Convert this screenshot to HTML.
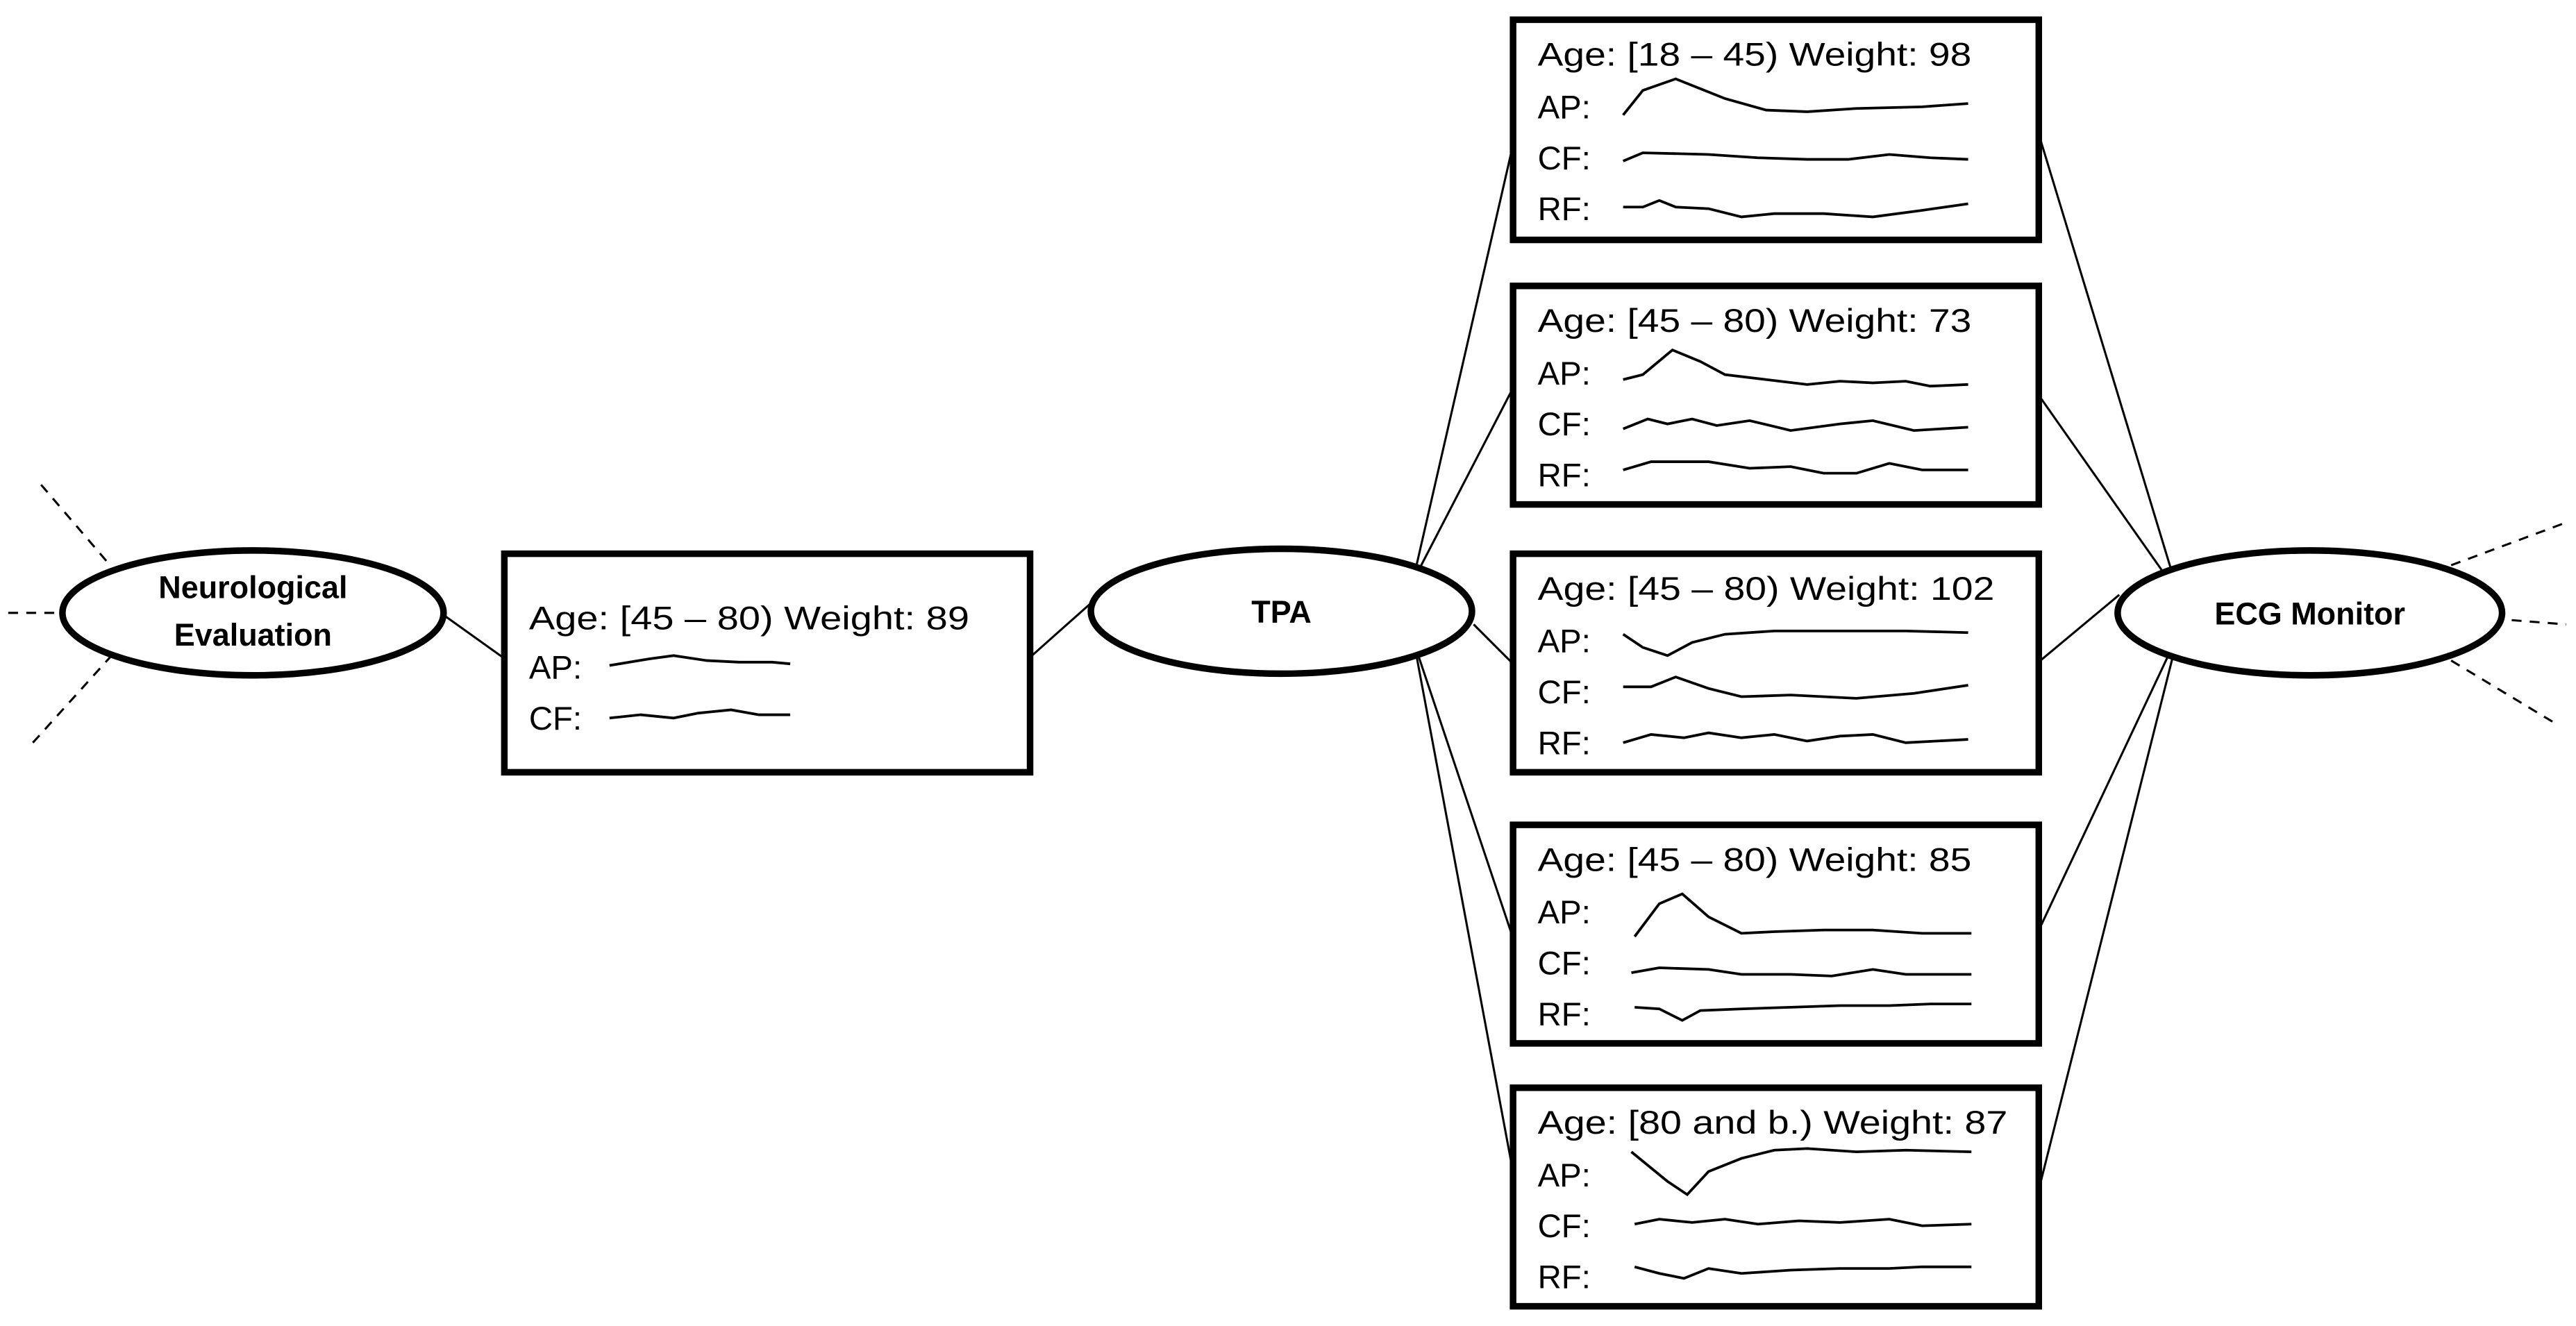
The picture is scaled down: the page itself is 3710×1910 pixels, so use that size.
<!DOCTYPE html>
<html><head><meta charset="utf-8"><style>html,body{margin:0;padding:0;background:#fff;width:3710px;height:1910px;overflow:hidden}svg{display:block}</style></head>
<body>
<svg width="3710" height="1910" viewBox="0 0 1568 807" preserveAspectRatio="none" xmlns="http://www.w3.org/2000/svg" font-family="'Liberation Sans Narrow','Liberation Sans',sans-serif">
<rect width="1568" height="807" fill="#fff"/>
<g stroke="#000" stroke-width="1.3" fill="none">
<!-- dashed -->
<g stroke-dasharray="6,5">
<line x1="25" y1="295" x2="67" y2="344"/>
<line x1="5" y1="373" x2="37" y2="373"/>
<line x1="20" y1="452" x2="67" y2="400"/>
<line x1="1492" y1="344" x2="1562" y2="318"/>
<line x1="1485" y1="374" x2="1562" y2="380"/>
<line x1="1492" y1="402" x2="1555" y2="440"/>
</g>
<line x1="271" y1="375" x2="306" y2="400"/>
<line x1="627" y1="400" x2="663" y2="368"/>
<line x1="862" y1="345" x2="921" y2="88"/>
<line x1="862" y1="350" x2="920" y2="238"/>
<line x1="897" y1="380" x2="920" y2="403"/>
<line x1="862" y1="395" x2="920" y2="568"/>
<line x1="862" y1="398" x2="920" y2="708"/>
<line x1="1242" y1="85" x2="1325" y2="358"/>
<line x1="1242" y1="242" x2="1325" y2="360"/>
<line x1="1242" y1="402" x2="1290" y2="362"/>
<line x1="1242" y1="564" x2="1325" y2="388"/>
<line x1="1242" y1="720" x2="1325" y2="390"/>
</g>
<g stroke="#000" stroke-width="4" fill="#fff">
<ellipse cx="154" cy="373" rx="116" ry="38"/>
<ellipse cx="780" cy="372" rx="116" ry="38"/>
<ellipse cx="1406" cy="373" rx="117" ry="38"/>
<rect x="307" y="337" width="320" height="133"/>
<rect x="921" y="12" width="320" height="134"/>
<rect x="921" y="174" width="320" height="133"/>
<rect x="921" y="337" width="320" height="133"/>
<rect x="921" y="502" width="320" height="133"/>
<rect x="921" y="662" width="320" height="133"/>
</g>
<g font-weight="bold" font-size="19" text-anchor="middle" fill="#000">
<text x="154" y="364">Neurological</text>
<text x="154" y="393">Evaluation</text>
<text x="780" y="379">TPA</text>
<text x="1406" y="380">ECG Monitor</text>
</g>
<g font-size="20" fill="#000">
<text x="322" y="383" textLength="268" lengthAdjust="spacingAndGlyphs">Age: [45 – 80) Weight: 89</text>
<text x="322" y="413">AP:</text><text x="322" y="444">CF:</text>
<text x="936" y="40" textLength="264" lengthAdjust="spacingAndGlyphs">Age: [18 – 45) Weight: 98</text>
<text x="936" y="72">AP:</text><text x="936" y="103">CF:</text><text x="936" y="134">RF:</text>
<text x="936" y="202" textLength="264" lengthAdjust="spacingAndGlyphs">Age: [45 – 80) Weight: 73</text>
<text x="936" y="234">AP:</text><text x="936" y="265">CF:</text><text x="936" y="296">RF:</text>
<text x="936" y="365" textLength="278" lengthAdjust="spacingAndGlyphs">Age: [45 – 80) Weight: 102</text>
<text x="936" y="397">AP:</text><text x="936" y="428">CF:</text><text x="936" y="459">RF:</text>
<text x="936" y="530" textLength="264" lengthAdjust="spacingAndGlyphs">Age: [45 – 80) Weight: 85</text>
<text x="936" y="562">AP:</text><text x="936" y="593">CF:</text><text x="936" y="624">RF:</text>
<text x="936" y="690" textLength="286" lengthAdjust="spacingAndGlyphs">Age: [80 and b.) Weight: 87</text>
<text x="936" y="722">AP:</text><text x="936" y="753">CF:</text><text x="936" y="784">RF:</text>
</g>
<g stroke="#000" stroke-width="1.6" fill="none">
<polyline points="371,405 395,401 410,399 430,402 450,403 470,403 481,404"/>
<polyline points="371,437 390,435 410,437 425,434 445,432 462,435 481,435"/>
<!-- box1 -->
<polyline points="988,70 1000,55 1020,48 1050,60 1075,67 1100,68 1130,66 1170,65 1198,63"/>
<polyline points="988,98 1000,93 1040,94 1070,96 1100,97 1125,97 1150,94 1175,96 1198,97"/>
<polyline points="988,126 1000,126 1010,122 1020,126 1040,127 1060,132 1080,130 1110,130 1140,132 1170,128 1198,124"/>
<!-- box2 -->
<polyline points="988,231 1000,228 1018,213 1035,220 1050,228 1075,231 1100,234 1120,232 1140,233 1160,232 1175,235 1198,234"/>
<polyline points="988,261 1003,255 1015,258 1030,255 1045,259 1065,256 1090,262 1120,258 1140,256 1165,262 1198,260"/>
<polyline points="988,286 1005,281 1040,281 1065,285 1090,284 1110,288 1130,288 1150,282 1170,286 1198,286"/>
<!-- box3 -->
<polyline points="988,386 1000,394 1015,399 1030,391 1050,386 1080,384 1120,384 1160,384 1198,385"/>
<polyline points="988,418 1005,418 1020,412 1040,419 1060,424 1090,423 1130,425 1165,422 1198,417"/>
<polyline points="988,452 1005,447 1025,449 1040,446 1060,449 1080,447 1100,451 1120,448 1140,447 1160,452 1198,450"/>
<!-- box4 -->
<polyline points="995,570 1010,550 1024,544 1040,558 1060,568 1080,567 1110,566 1140,566 1170,568 1200,568"/>
<polyline points="993,592 1010,589 1040,590 1060,593 1090,593 1115,594 1140,590 1160,593 1200,593"/>
<polyline points="995,613 1010,614 1024,621 1035,615 1060,614 1090,613 1120,612 1150,612 1175,611 1200,611"/>
<!-- box5 -->
<polyline points="993,701 1015,719 1027,727 1040,713 1060,705 1080,700 1100,699 1130,701 1160,700 1200,701"/>
<polyline points="995,745 1010,742 1030,744 1050,742 1070,745 1095,743 1120,744 1150,742 1170,746 1200,745"/>
<polyline points="995,771 1010,775 1025,778 1040,772 1060,775 1090,773 1120,772 1150,772 1170,771 1200,771"/>
</g>
</svg>
</body></html>
